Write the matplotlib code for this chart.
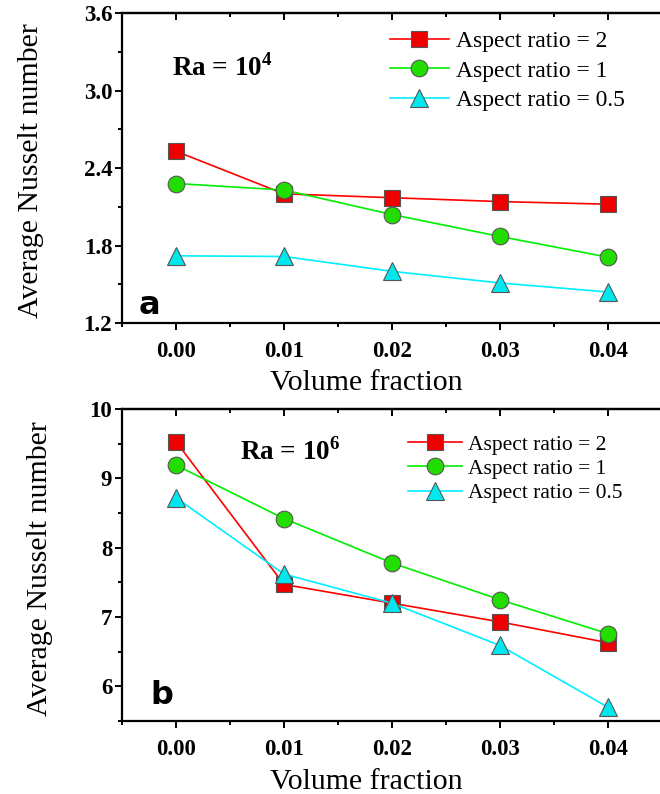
import numpy as np
import matplotlib
matplotlib.use("Agg")
import matplotlib.pyplot as plt
from matplotlib.ticker import MultipleLocator

plt.rcParams["font.family"] = ["Liberation Serif", "DejaVu Serif"]
plt.rcParams["mathtext.fontset"] = "custom"
plt.rcParams["mathtext.rm"] = "Liberation Serif"
plt.rcParams["mathtext.bf"] = "Liberation Serif:bold"

# data
volume_fraction = [0.00, 0.01, 0.02, 0.03, 0.04]
labels = ["Aspect ratio = 2", "Aspect ratio = 1", "Aspect ratio = 0.5"]

# Ra = 10^4
nu_ra4_ar2 = [2.53, 2.20, 2.17, 2.14, 2.12]
nu_ra4_ar1 = [2.28, 2.23, 2.04, 1.87, 1.71]
nu_ra4_ar05 = [1.72, 1.715, 1.60, 1.51, 1.44]

# Ra = 10^6
nu_ra6_ar2 = [9.53, 7.47, 7.20, 6.93, 6.63]
nu_ra6_ar1 = [9.19, 8.42, 7.78, 7.25, 6.76]
nu_ra6_ar05 = [8.72, 7.62, 7.20, 6.59, 5.70]

line_colors = ["#ff0000", "#00ee00", "#00eeff"]
face_colors = ["#ee0000", "#22dd00", "#00e8ee"]
markers = ["s", "o", "^"]
msizes = [11, 12, 13]

fig = plt.figure(figsize=(6.6, 7.94), dpi=100)
ax1 = fig.add_axes([0.1848, 0.5932, 0.818, 0.3904])
ax2 = fig.add_axes([0.1848, 0.0919, 0.818, 0.3930])


def draw_panel(ax, series, ylim, ymajor, yminor, legend_anchor, leg_fs, leg_sp,
               ra_text, ra_pos, letter, letter_pos, ylabel_x, xlabel_y):
    for i, ys in enumerate(series):
        ax.plot(volume_fraction, ys, color=line_colors[i], lw=1.2,
                marker=markers[i], ms=msizes[i], mfc=face_colors[i],
                mec="#555555", mew=0.8, label=labels[i])
    ax.set_xlim(-0.005, 0.045)
    ax.set_ylim(*ylim)
    ax.xaxis.set_major_locator(MultipleLocator(0.01))
    ax.xaxis.set_minor_locator(MultipleLocator(0.005))
    ax.yaxis.set_major_locator(MultipleLocator(ymajor))
    ax.yaxis.set_minor_locator(MultipleLocator(yminor))
    ax.xaxis.set_major_formatter(plt.FormatStrFormatter("%.2f"))
    for sp in ax.spines.values():
        sp.set_linewidth(1.6)
    ax.tick_params(axis="both", which="both", direction="out", width=1.4,
                   top=False, right=False)
    ax.tick_params(axis="both", which="major", length=5)
    ax.tick_params(axis="both", which="minor", length=3)
    ax.tick_params(axis="x", which="major", pad=8)
    ax.tick_params(axis="y", which="major", pad=2)
    ax.tick_params(axis="both", labelsize=16.5)
    for t in ax.get_xticklabels() + ax.get_yticklabels():
        t.set_fontweight("bold")
    # inward ticks on the top spine
    top = ax.secondary_xaxis("top")
    top.xaxis.set_major_locator(MultipleLocator(0.01))
    top.xaxis.set_minor_locator(MultipleLocator(0.005))
    top.tick_params(which="both", direction="in", width=1.4, labeltop=False)
    top.tick_params(which="major", length=5)
    top.tick_params(which="minor", length=3)
    top.spines["top"].set_linewidth(1.6)

    ax.set_xlabel("Volume fraction", fontsize=21.5)
    ax.xaxis.set_label_coords(0.452, xlabel_y)
    ax.set_ylabel("Average Nusselt number", fontsize=21.5)
    ax.yaxis.set_label_coords(ylabel_x, 0.49)

    ax.legend(loc="upper left", bbox_to_anchor=legend_anchor, frameon=False,
              fontsize=leg_fs, handlelength=2.5, handletextpad=0.3,
              labelspacing=leg_sp, borderpad=0, borderaxespad=0)
    ax.text(ra_pos[0], ra_pos[1], ra_text, transform=ax.transAxes,
            fontsize=19.5, fontweight="bold", va="center", ha="left")
    ax.text(letter_pos[0], letter_pos[1], letter, transform=ax.transAxes,
            fontsize=23, fontweight="bold", family="DejaVu Sans",
            va="center", ha="left")


draw_panel(ax1, [nu_ra4_ar2, nu_ra4_ar1, nu_ra4_ar05], (1.2, 3.6), 0.6, 0.3,
           (0.496, 0.943), 17, 0.33, r"Ra = 10$^{\mathbf{4}}$", (0.093, 0.825),
           "a", (0.03, 0.058), -0.145, -0.153)
draw_panel(ax2, [nu_ra6_ar2, nu_ra6_ar1, nu_ra6_ar05], (5.5, 10), 1, 0.5,
           (0.53, 0.918), 15.5, 0.2, r"Ra = 10$^{\mathbf{6}}$", (0.219, 0.862),
           "b", (0.052, 0.083), -0.128, -0.155)
ax1.yaxis.set_major_formatter(plt.FormatStrFormatter("%.1f"))
ax2.yaxis.set_major_formatter(plt.FormatStrFormatter("%d"))

fig.savefig("out.png", dpi=100)
